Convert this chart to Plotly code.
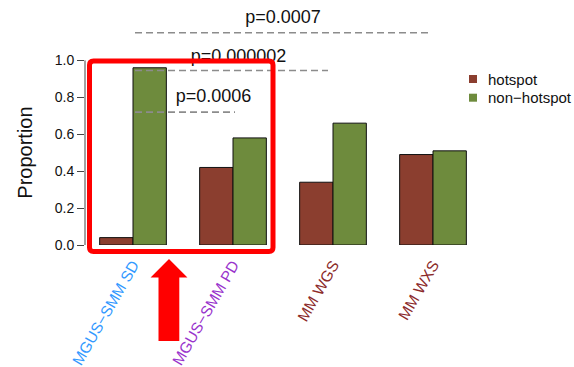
import plotly.graph_objects as go

# Proportion of hotspot vs non-hotspot events per cohort
categories = ["MGUS\u2212SMM SD", "MGUS\u2212SMM PD", "MM WGS", "MM WXS"]
category_colors = ["#3399ff", "#9933cc", "#8b2a2a", "#8b2a2a"]
hotspot = [0.04, 0.42, 0.34, 0.49]
non_hotspot = [0.96, 0.58, 0.66, 0.51]
series_names = ["hotspot", "non\u2212hotspot"]
series_colors = ["#8b3e2f", "#6e8b3d"]

# Pairwise comparison brackets (from category index 0 to end index)
bracket_start = [0.02, 0.02, 0.02]
bracket_end = [1.02, 1.95, 2.99]
bracket_y = [0.72, 0.945, 1.15]
p_labels = ["p=0.0006", "p=0.000002", "p=0.0007"]
p_label_x = [0.805, 1.055, 1.5]
p_label_y = [0.80, 1.015, 1.225]

yticks = [0.0, 0.2, 0.4, 0.6, 0.8, 1.0]

FONT = "Liberation Sans, Arial, Helvetica, sans-serif"
W, H = 574, 367
ML, MR, MT, MB = 85, 91, 5, 122
PW, PH = W - ML - MR, H - MT - MB


def px(x):
    return (x - ML) / PW


def py(y):
    return (H - MB - y) / PH


xs = list(range(len(categories)))
fig = go.Figure()
for name, vals, col in zip(series_names, [hotspot, non_hotspot], series_colors):
    fig.add_trace(go.Bar(
        x=xs, y=vals, name=name, marker=dict(color=col, line=dict(color="#111111", width=1)),
        showlegend=False, hoverinfo="skip",
    ))

for x0, x1, y in zip(bracket_start, bracket_end, bracket_y):
    fig.add_trace(go.Scatter(
        x=[x0, x1], y=[y, y], mode="lines", showlegend=False, hoverinfo="skip",
        line=dict(color="#8c8c8c", width=1.6, dash="7px,4px"), cliponaxis=False,
    ))
fig.add_trace(go.Scatter(
    x=p_label_x, y=p_label_y, mode="text", text=p_labels, textposition="middle center",
    textfont=dict(size=18, color="#111111", family=FONT), showlegend=False,
    hoverinfo="skip", cliponaxis=False,
))

ticktext = [f"<span style='color:{c}'>{t}</span>" for t, c in zip(categories, category_colors)]

fig.update_layout(
    width=W, height=H,
    margin=dict(l=ML, r=MR, t=MT, b=MB, pad=0, autoexpand=False),
    paper_bgcolor="white", plot_bgcolor="white",
    barmode="group", bargap=0.333, bargroupgap=0,
    font=dict(family=FONT, color="#111111"),
    xaxis=dict(
        range=[-0.48, 3.5], tickvals=xs, ticktext=ticktext, tickangle=-60,
        tickfont=dict(size=15.5), showgrid=False, zeroline=False, showline=False,
        ticks="", ticklabelstandoff=7, automargin=False, fixedrange=True,
    ),
    yaxis=dict(
        range=[0, 1.3], tickvals=yticks, tickformat=".1f", tickfont=dict(size=14),
        ticks="outside", ticklen=7, tickcolor="#444444", tickwidth=1,
        showgrid=False, zeroline=False, showline=False, automargin=False,
    ),
    showlegend=False,
)

shapes = []
annotations = []
# y axis line spanning only the tick range
shapes.append(dict(type="line", xref="paper", yref="y", x0=0, x1=0, y0=0, y1=1,
                   line=dict(color="#444444", width=1)))

# y axis title, centred on the 0-1 tick span
annotations.append(dict(xref="paper", yref="y", x=px(25), y=0.5, text="Proportion",
                        textangle=-90, showarrow=False, xanchor="center", yanchor="middle",
                        font=dict(size=20, color="#111111")))

# legend: square swatch + label for each series
for i, (name, col) in enumerate(zip(series_names, series_colors)):
    cy = 79 + i * 18.7
    shapes.append(dict(type="rect", xref="paper", yref="paper",
                       x0=px(469), x1=px(477), y0=py(cy + 4), y1=py(cy - 4),
                       fillcolor=col, line=dict(width=0)))
    annotations.append(dict(xref="paper", yref="paper", x=px(486), y=py(cy),
                            xanchor="left", yanchor="middle", showarrow=False,
                            text=name, font=dict(size=15, color="#111111")))

# highlight box around the MGUS-SMM groups
bx0, bx1, by0, by1, r = 89.5, 273, 61, 251.5, 4
rx, ry = r / PW, r / PH
X0, X1, Y0, Y1 = px(bx0), px(bx1), py(by1), py(by0)
box = (f"M {X0 + rx},{Y1} L {X1 - rx},{Y1} Q {X1},{Y1} {X1},{Y1 - ry} "
       f"L {X1},{Y0 + ry} Q {X1},{Y0} {X1 - rx},{Y0} "
       f"L {X0 + rx},{Y0} Q {X0},{Y0} {X0},{Y0 + ry} "
       f"L {X0},{Y1 - ry} Q {X0},{Y1} {X0 + rx},{Y1} Z")
shapes.append(dict(type="path", xref="paper", yref="paper", path=box,
                   line=dict(color="#ff0000", width=5), layer="above"))

# upward arrow
pts = [(169, 260.5), (185, 276.5), (178.3, 276.5), (178.3, 340), (159.5, 340),
       (159.5, 276.5), (153, 276.5)]
arrow = "M " + " L ".join(f"{px(a)},{py(b)}" for a, b in pts) + " Z"
shapes.append(dict(type="path", xref="paper", yref="paper", path=arrow,
                   fillcolor="#ff0000", line=dict(color="#ff0000", width=2), layer="above"))

fig.update_layout(shapes=shapes, annotations=annotations)
fig.write_html("out.html")
